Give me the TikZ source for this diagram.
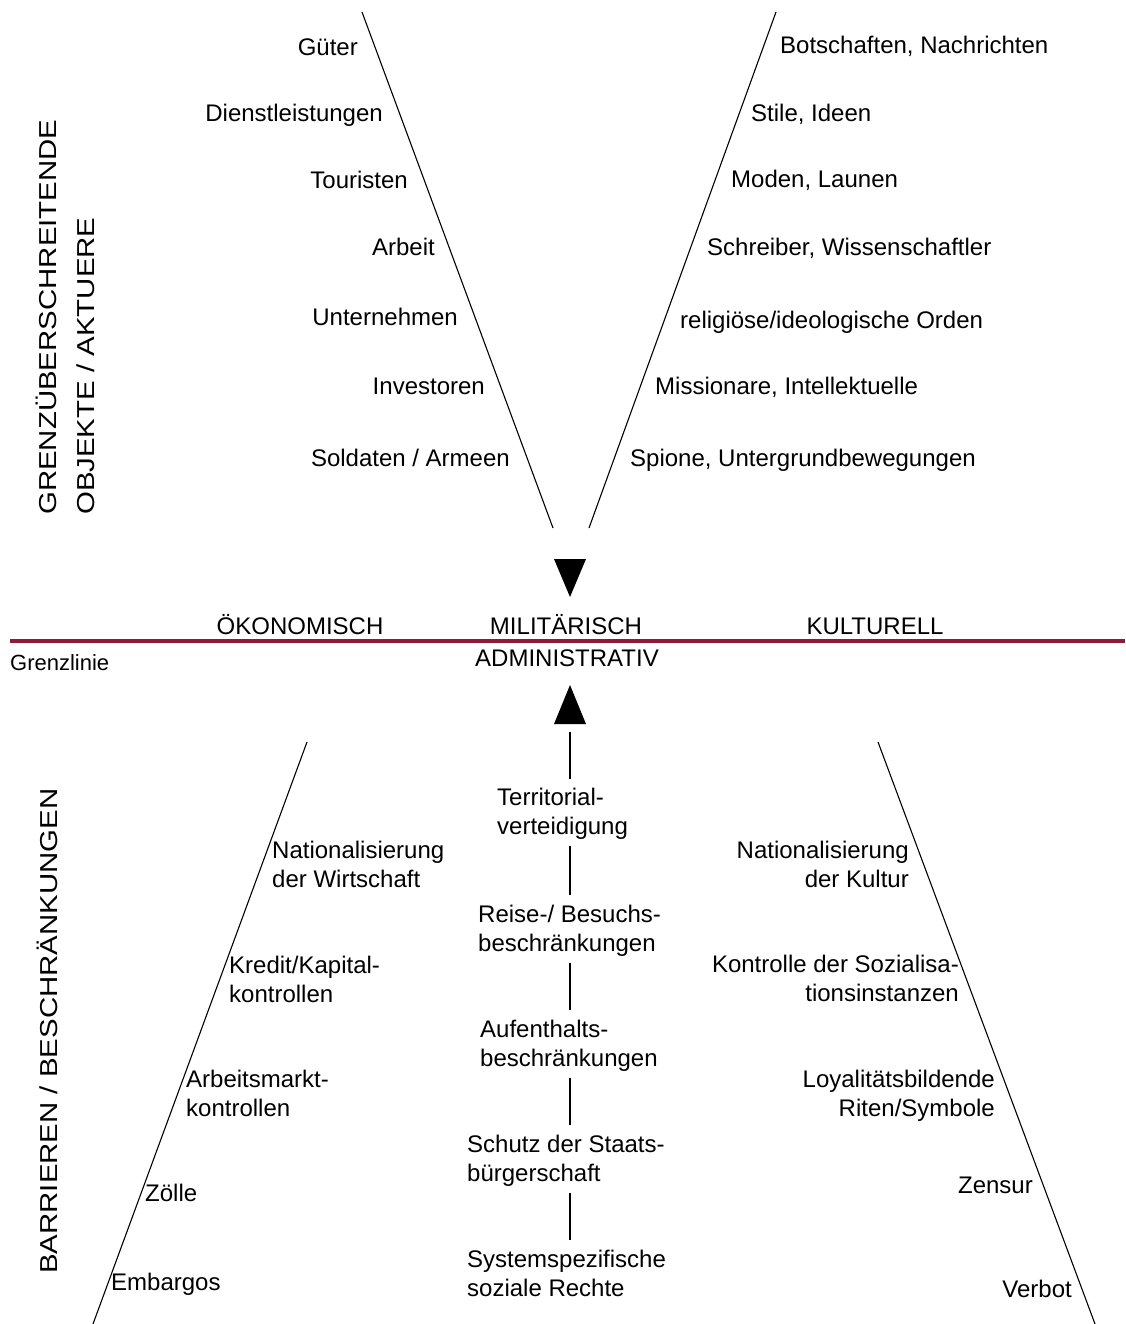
\documentclass[tikz,border=0pt]{standalone}
\usepackage{fontspec}
\setmainfont{Liberation Sans}
\newfontfamily\widesans[FakeStretch=1.2]{Liberation Sans}
\definecolor{grenz}{RGB}{142,27,58}
\begin{document}
\begin{tikzpicture}[x=1pt,y=-1pt,
  lbl/.style={inner sep=0pt, font=\fontsize{24}{29.5}\selectfont},
  lbll/.style={lbl, anchor=base west, align=left},
  lblr/.style={lbl, anchor=base east, align=right},
  lblc/.style={lbl, anchor=base, align=center},
  big/.style={inner sep=0pt, rotate=90, anchor=base west, align=left, font=\widesans\fontsize{24.5}{38}\selectfont},
  thin/.style={line width=1.1pt},
  seg/.style={line width=1.1pt, shorten <=6pt, shorten >=9pt},
  tri/.style={fill=black}]
\useasboundingbox (0,0) rectangle (1125,1324);

% border line
\coordinate (gl1) at (10,641);
\coordinate (gl2) at (1125,641);
\draw[grenz, line width=4pt] (gl1) -- (gl2);

% funnel lines
\coordinate (tl1) at (362,12);  \coordinate (tl2) at (553,528);
\coordinate (tr1) at (776,12);  \coordinate (tr2) at (589,528);
\coordinate (bl1) at (307,742); \coordinate (bl2) at (93,1324);
\coordinate (br1) at (878,742); \coordinate (br2) at (1095,1324);
\draw[thin] (tl1) -- (tl2);
\draw[thin] (tr1) -- (tr2);
\draw[thin] (bl1) -- (bl2);
\draw[thin] (br1) -- (br2);

% triangles
\coordinate (dtip) at (570,597);
\coordinate (utip) at (570,685);
\coordinate (ubase) at (570,724);
\fill[tri] (554,559) -- (586,559) -- (dtip) -- cycle;
\fill[tri] (utip) -- (586,724) -- (554,724) -- cycle;

% side titles (base = last line baseline)
\node[big] (t1) at (94,515) {GRENZÜBERSCHREITENDE\\OBJEKTE / AKTUERE};
\node[big] (t2) at (57,1274) {BARRIEREN / BESCHRÄNKUNGEN};

% top left
\node[lblr] (a1) at (358,56) {Güter};
\node[lblr] (a2) at (383,122) {Dienstleistungen};
\node[lblr] (a3) at (408,189) {Touristen};
\node[lblr] (a4) at (435,255) {Arbeit};
\node[lblr] (a5) at (458,325) {Unternehmen};
\node[lblr] (a6) at (485,394) {Investoren};
\node[lblr] (a7) at (510,466) {Soldaten / Armeen};

% top right
\node[lbll] (b1) at (780,54) {Botschaften, Nachrichten};
\node[lbll] (b2) at (751,122) {Stile, Ideen};
\node[lbll] (b3) at (731,188) {Moden, Launen};
\node[lbll] (b4) at (707,255) {Schreiber, Wissenschaftler};
\node[lbll] (b5) at (680,328) {religiöse/ideologische Orden};
\node[lbll] (b6) at (655,394) {Missionare, Intellektuelle};
\node[lbll] (b7) at (630,466) {Spione, Untergrundbewegungen};

% category labels
\node[lblc] (oek) at (300,634) {ÖKONOMISCH};
\node[lblc] (mil) at (566,634) {MILITÄRISCH};
\node[lblc] (kul) at (875,634) {KULTURELL};
\node[lblc] (adm) at (567,666) {ADMINISTRATIV};
\node[inner sep=0pt, anchor=base west, font=\fontsize{22}{26}\selectfont] (gr) at (10,670) {Grenzlinie};

% bottom left (two-line nodes: y = baseline of second line)
\node[lbll] (c1) at (272,887.5) {Nationalisierung\\der Wirtschaft};
\node[lbll] (c2) at (229,1002.5) {Kredit/Kapital-\\kontrollen};
\node[lbll] (c3) at (186,1116.5) {Arbeitsmarkt-\\kontrollen};
\node[lbll] (c4) at (145,1201) {Zölle};
\node[lbll] (c5) at (111,1290) {Embargos};

% centre
\coordinate (ax) at (570,0);
\node[lbll] (m1) at (497,834.5) {Territorial-\\verteidigung};
\node[lbll] (m2) at (478,951.5) {Reise-/ Besuchs-\\beschränkungen};
\node[lbll] (m3) at (480,1066.5) {Aufenthalts-\\beschränkungen};
\node[lbll] (m4) at (467,1181.5) {Schutz der Staats-\\bürgerschaft};
\node[lbll] (m5) at (467,1296.5) {Systemspezifische\\soziale Rechte};
\draw[thin, shorten <=8pt, shorten >=8pt] (ubase) -- (ax |- m1.north);
\draw[seg] (ax |- m1.south) -- (ax |- m2.north);
\draw[seg] (ax |- m2.south) -- (ax |- m3.north);
\draw[seg] (ax |- m3.south) -- (ax |- m4.north);
\draw[seg] (ax |- m4.south) -- (ax |- m5.north);

% bottom right
\node[lblr] (d1) at (909,887.5) {Nationalisierung\\der Kultur};
\node[lblr] (d2) at (959,1001.5) {Kontrolle der Sozialisa-\\tionsinstanzen};
\node[lblr] (d3) at (995,1116.5) {Loyalitätsbildende\\Riten/Symbole};
\node[lblr] (d4) at (1033,1193) {Zensur};
\node[lblr] (d5) at (1072,1297) {Verbot};
\end{tikzpicture}
\end{document}
